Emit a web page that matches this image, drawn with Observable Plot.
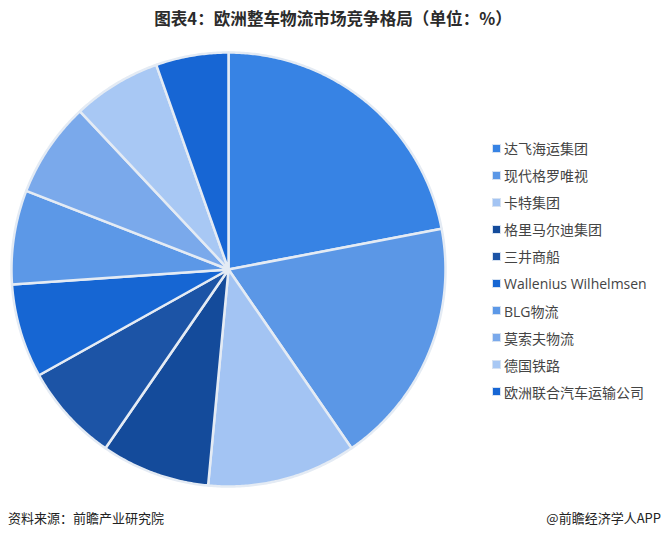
<!DOCTYPE html>
<html>
<head>
<meta charset="utf-8">
<script src="https://cdn.jsdelivr.net/npm/d3@7"></script>
<script src="https://cdn.jsdelivr.net/npm/@observablehq/plot@0.6"></script>
<style>
  html, body { margin: 0; padding: 0; background: #fff; }
  body { width: 666px; height: 537px; position: relative; overflow: hidden;
         font-family: "Open Sans", "Noto Sans CJK SC", sans-serif; }
  #title { position: absolute; left: 0; top: 6px; width: 666px; text-align: center;
           font-family: "Noto Sans CJK SC", sans-serif; font-weight: bold; font-size: 16.6px; color: #2b2b2b; line-height: 24px; }
  #chart { position: absolute; left: 0; top: 40px; }
  #legend { position: absolute; left: 492px; top: 134.5px; }
  .item { height: 27.1px; display: flex; align-items: center; font-size: 14px; color: #444; white-space: nowrap; }
  .sw { width: 7px; height: 7px; margin-right: 3px; border: 1px solid #d6e2f2; }
  #source { position: absolute; left: 8px; top: 508px; font-size: 13px; color: #222; font-family: "Noto Sans CJK SC", sans-serif; }
  #brand { position: absolute; right: 5px; top: 508px; font-size: 13px; color: #222; font-family: "Noto Sans CJK SC", sans-serif; }
</style>
</head>
<body>
<div id="title">图表4：欧洲整车物流市场竞争格局（单位：%）</div>
<div id="chart"></div>
<div id="legend"></div>
<div id="source">资料来源：前瞻产业研究院</div>
<div id="brand">@前瞻经济学人APP</div>
<script>
const companies = ["达飞海运集团", "现代格罗唯视", "卡特集团", "格里马尔迪集团", "三井商船",
  "Wallenius Wilhelmsen", "BLG物流", "莫索夫物流", "德国铁路", "欧洲联合汽车运输公司"];
const shares = [22.0, 18.4, 11.1, 8.1, 7.3, 7.0, 7.0, 7.1, 6.6, 5.4];
const colors = ["#3783e4", "#5b97e6", "#a3c4f3", "#144b9b", "#1c54a6", "#1666d3",
  "#5c98e7", "#7aa9eb", "#a8c8f4", "#1766d4"];

// build wedge outlines from the pie angles (unit circle, y up)
const arcs = d3.pie().sort(null).value(d => d)(shares);
const pts = [];
arcs.forEach((a, i) => {
  const name = companies[i];
  pts.push({name, x: 0, y: 0});
  const n = Math.max(2, Math.ceil((a.endAngle - a.startAngle) / (Math.PI / 360)));
  for (let k = 0; k <= n; k++) {
    const t = a.startAngle + (a.endAngle - a.startAngle) * k / n;
    pts.push({name, x: Math.sin(t), y: Math.cos(t)});
  }
  pts.push({name, x: 0, y: 0});
});

const chart = Plot.plot({
  width: 460, height: 460,
  marginLeft: 11, marginRight: 15, marginTop: 12, marginBottom: 14,
  x: {domain: [-1, 1], axis: null},
  y: {domain: [-1, 1], axis: null},
  color: {domain: companies, range: colors},
  marks: [
    Plot.line(pts, {x: "x", y: "y", z: "name", fill: "name", stroke: "#e4ebf4",
      strokeWidth: 2.5, strokeLinejoin: "round", curve: "linear"})
  ]
});
document.getElementById("chart").appendChild(chart);

const legend = document.getElementById("legend");
companies.forEach((c, i) => {
  const it = document.createElement("div");
  it.className = "item";
  const sw = document.createElement("span");
  sw.className = "sw";
  sw.style.background = colors[i];
  it.appendChild(sw);
  const tx = document.createElement("span");
  tx.textContent = c;
  it.appendChild(tx);
  legend.appendChild(it);
});
</script>
</body>
</html>
